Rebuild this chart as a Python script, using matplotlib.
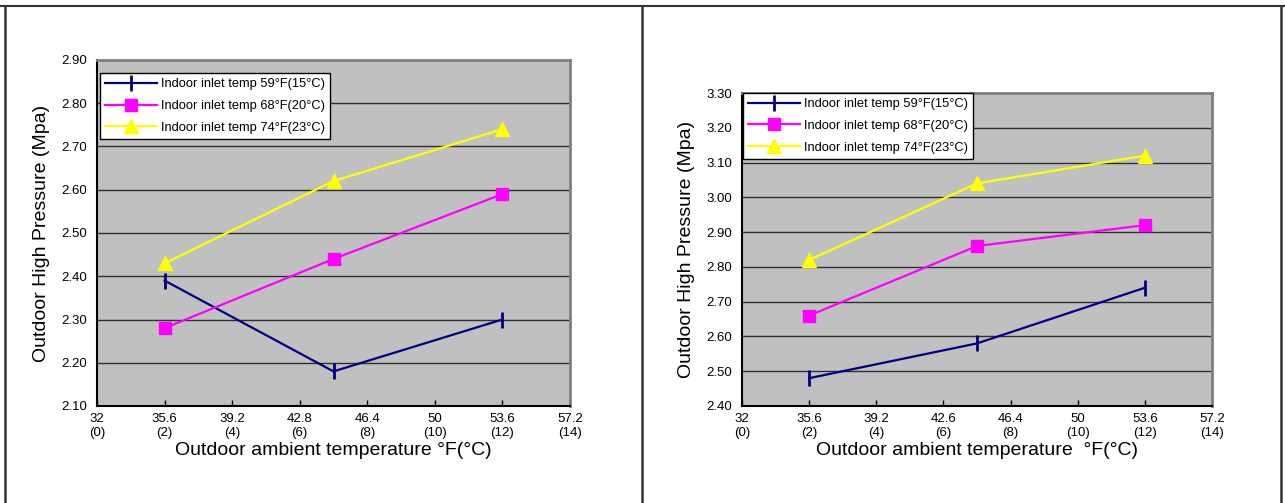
import matplotlib
matplotlib.use("Agg")
import matplotlib.pyplot as plt
from matplotlib.lines import Line2D

plt.rcParams['font.family'] = ['Liberation Sans', 'DejaVu Sans']

# Data
x_f = [35.6, 44.6, 53.6]
series_labels = ["Indoor inlet temp 59°F(15°C)",
                 "Indoor inlet temp 68°F(20°C)",
                 "Indoor inlet temp 74°F(23°C)"]

left_59 = [2.39, 2.18, 2.30]
left_68 = [2.28, 2.44, 2.59]
left_74 = [2.43, 2.62, 2.74]

right_59 = [2.48, 2.58, 2.74]
right_68 = [2.66, 2.86, 2.92]
right_74 = [2.82, 3.04, 3.12]

xticks = [32, 35.6, 39.2, 42.8, 46.4, 50, 53.6, 57.2]
xtick_labels_left = ["32\n(0)", "35.6\n(2)", "39.2\n(4)", "42.8\n(6)", "46.4\n(8)",
                     "50\n(10)", "53.6\n(12)", "57.2\n(14)"]
xtick_labels_right = ["32\n(0)", "35.6\n(2)", "39.2\n(4)", "42.6\n(6)", "46.4\n(8)",
                      "50\n(10)", "53.6\n(12)", "57.2\n(14)"]

left_yticks = [2.10, 2.20, 2.30, 2.40, 2.50, 2.60, 2.70, 2.80, 2.90]
right_yticks = [2.40, 2.50, 2.60, 2.70, 2.80, 2.90, 3.00, 3.10, 3.20, 3.30]

ylabel = "Outdoor High Pressure (Mpa)"
xlabel_left = "Outdoor ambient temperature °F(°C)"
xlabel_right = "Outdoor ambient temperature  °F(°C)"

W, H = 1285, 503
fig = plt.figure(figsize=(W / 100, H / 100), dpi=100)

def fx(px):
    return px / W

def fy(py):
    return 1 - py / H

styles = [
    dict(color='#000080', marker='|', markersize=11, markeredgewidth=2),
    dict(color='#FF00FF', marker='s', markersize=9),
    dict(color='#FFFF00', marker='^', markersize=10),
]

def make_panel(rect, data, yticks, xlabels, xlabel, legend_loc):
    ax = fig.add_axes(rect)
    ax.set_facecolor('#C0C0C0')
    for vals, lab, st in zip(data, series_labels, styles):
        ax.plot(x_f, vals, linewidth=1.6, label=lab, **st)
    ax.set_xlim(32, 57.2)
    ax.set_ylim(yticks[0], yticks[-1])
    ax.set_yticks(yticks)
    ax.set_yticklabels([f"{v:.2f}" for v in yticks], fontsize=9.5)
    ax.set_xticks(xticks)
    ax.set_xticklabels(xlabels, fontsize=9.5, linespacing=1.2)
    ax.tick_params(axis='x', direction='in', length=4, width=1, pad=5)
    ax.tick_params(axis='y', direction='in', length=0, pad=7)
    ax.grid(axis='y', color='#303030', linewidth=1)
    ax.set_axisbelow(True)
    for s in ['left', 'bottom']:
        ax.spines[s].set_color('black')
        ax.spines[s].set_linewidth(1.5)
    for s in ['top', 'right']:
        ax.spines[s].set_color('#808080')
        ax.spines[s].set_linewidth(2)
    ax.set_xlabel(xlabel, fontsize=14, labelpad=2)
    ax.set_ylabel(ylabel, fontsize=14, labelpad=8)
    leg = ax.legend(loc='upper left', bbox_to_anchor=legend_loc, fontsize=9.3,
                    frameon=True, fancybox=False, edgecolor='black',
                    framealpha=1, handlelength=4.0, labelspacing=0.75,
                    borderpad=0.4, handletextpad=0.3, borderaxespad=0)
    leg.get_frame().set_linewidth(1)
    return ax

# left panel
lx0, lx1, ly0, ly1 = 97, 570, 60, 406
make_panel([fx(lx0), fy(ly1), fx(lx1) - fx(lx0), fy(ly0) - fy(ly1)],
           [left_59, left_68, left_74], left_yticks, xtick_labels_left,
           xlabel_left, (0.006, 0.962))

# right panel
rx0, rx1, ry0, ry1 = 742, 1212, 93, 406
make_panel([fx(rx0), fy(ry1), fx(rx1) - fx(rx0), fy(ry0) - fy(ry1)],
           [right_59, right_68, right_74], right_yticks, xtick_labels_right,
           xlabel_right, (0.002, 1.0))

# outer frame lines
frame_color = '#333333'
fig.add_artist(Line2D([fx(0), fx(W)], [fy(6), fy(6)], color=frame_color, lw=1.5))
for px in [5, 642, 1281]:
    fig.add_artist(Line2D([fx(px), fx(px)], [fy(6), fy(H + 5)], color=frame_color, lw=1.8))

fig.savefig("out.png", dpi=100)
